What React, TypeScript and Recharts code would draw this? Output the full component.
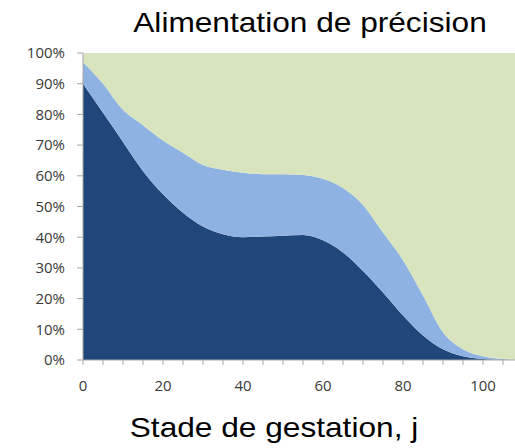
import { AreaChart, Area, XAxis, YAxis } from "recharts";

const days = [0, 5, 10, 15, 20, 25, 30, 35, 40, 45, 50, 55, 60, 65, 70, 75, 80, 85, 90, 95, 100, 105, 108];
const darkShare = [90, 80.5, 71, 61.5, 54, 48, 43.5, 41, 40, 40.2, 40.5, 40.7, 39, 35, 29, 22, 14.5, 8, 3.5, 1.2, 0.3, 0, 0];
const lightShare = [7, 9.5, 10.5, 15, 17.5, 19.5, 20, 21, 21, 20.3, 20, 19.6, 20, 21, 21.5, 19.5, 18, 13, 5.5, 2.3, 0.9, 0.3, 0.1];
const greenShare = [3, 10, 18.5, 23.5, 28.5, 32.5, 36.5, 38, 39, 39.5, 39.5, 39.7, 41, 44, 49.5, 58.5, 67.5, 79, 91, 96.5, 98.8, 99.7, 99.9];

const xTicks = [0, 5, 10, 15, 20, 25, 30, 35, 40, 45, 50, 55, 60, 65, 70, 75, 80, 85, 90, 95, 100, 105];
const yTicks = [0, 10, 20, 30, 40, 50, 60, 70, 80, 90, 100];

const title = "Alimentation de précision";
const xLabel = "Stade de gestation, j";

const data = days.map((d, i) => ({
  day: d,
  dark: darkShare[i],
  light: lightShare[i],
  green: greenShare[i],
}));

const tickStyle = { fill: "#3A3A3A", fontSize: 15, fontFamily: "Open Sans" };
const axisGray = "#A6A6A6";

const textStyle = {
  position: "absolute" as const,
  whiteSpace: "nowrap" as const,
  fontFamily: "Liberation Sans, Arial, sans-serif",
  fontSize: 28,
  lineHeight: 1,
  color: "#000",
};

export default function App() {
  return (
    <div style={{ position: "absolute", left: 0, top: 0, width: 515, height: 448, background: "#fff" }}>
      <AreaChart width={515} height={448} data={data} margin={{ top: 53, right: 0, bottom: 58, left: 0 }}>
        <XAxis
          dataKey="day"
          type="number"
          domain={[0, 108]}
          ticks={xTicks}
          interval={0}
          height={30}
          tick={tickStyle}
          tickSize={5}
          tickMargin={15}
          axisLine={{ stroke: axisGray }}
          tickLine={{ stroke: axisGray }}
          tickFormatter={(v) => (v % 20 === 0 ? String(v) : "")}
        />
        <YAxis
          domain={[0, 100]}
          ticks={yTicks}
          interval={0}
          width={83}
          tick={tickStyle}
          tickSize={6}
          tickMargin={12}
          axisLine={{ stroke: axisGray }}
          tickLine={{ stroke: axisGray }}
          tickFormatter={(v) => `${v}%`}
        />
        <Area type="monotone" dataKey="dark" stackId="s" stroke="none" fill="#1F4779" fillOpacity={1} isAnimationActive={false} />
        <Area type="monotone" dataKey="light" stackId="s" stroke="none" fill="#8EB3E2" fillOpacity={1} isAnimationActive={false} />
        <Area type="monotone" dataKey="green" stackId="s" stroke="none" fill="#D8E4BE" fillOpacity={1} isAnimationActive={false} />
      </AreaChart>
      <div style={{ ...textStyle, left: 310, top: 9, transform: "translateX(-50%) scaleX(1.13)" }}>{title}</div>
      <div style={{ ...textStyle, left: 274, top: 414, transform: "translateX(-50%) scaleX(1.13)" }}>{xLabel}</div>
    </div>
  );
}
